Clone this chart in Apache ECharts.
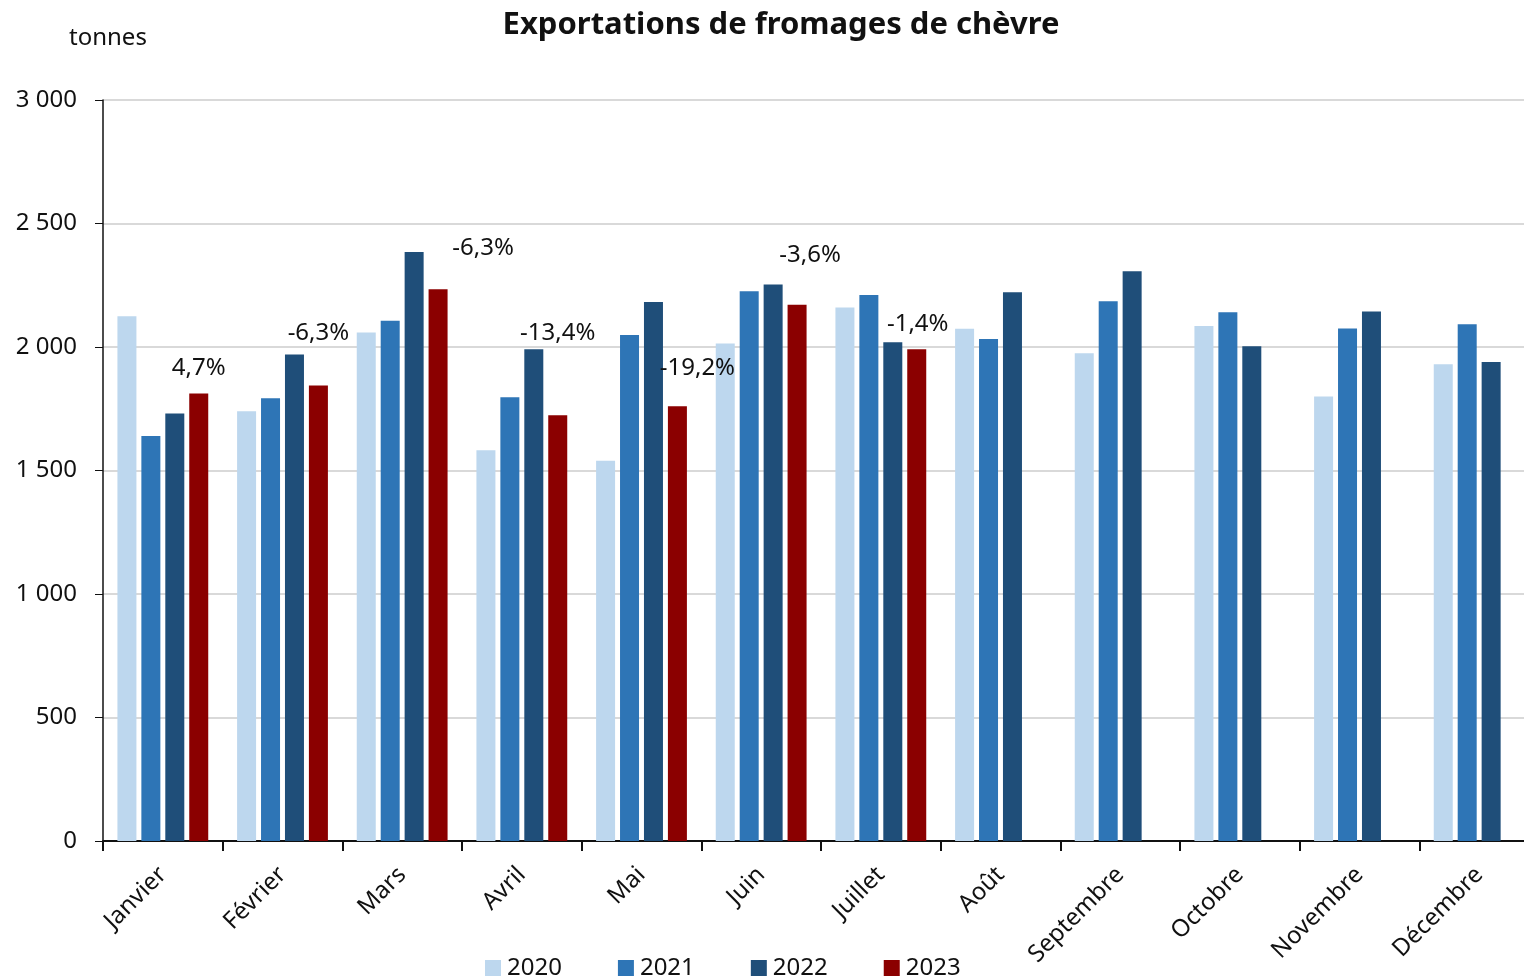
<!DOCTYPE html>
<html>
<head>
<meta charset="utf-8">
<title>Exportations de fromages de chèvre</title>
<script src="https://cdn.jsdelivr.net/npm/echarts@6/dist/echarts.min.js"></script>
<style>
  html, body { margin: 0; padding: 0; background: #fff; overflow: hidden; }
  /* wider than the window: the last category runs past the right edge */
  #chart { width: 1539px; height: 976px; }
</style>
</head>
<body>
<div id="chart"></div>
<script>
  var months = ['Janvier', 'Février', 'Mars', 'Avril', 'Mai', 'Juin', 'Juillet',
    'Août', 'Septembre', 'Octobre', 'Novembre', 'Décembre'];
  var years = ['2020', '2021', '2022', '2023'];

  // tonnes
  var y2020 = [2125, 1740, 2059, 1582, 1539, 2014, 2160, 2074, 1975, 2085, 1800, 1930];
  var y2021 = [1640, 1793, 2106, 1797, 2049, 2226, 2211, 2032, 2185, 2141, 2075, 2092];
  var y2022 = [1731, 1970, 2385, 1991, 2182, 2253, 2019, 2222, 2307, 2003, 2144, 1939];
  var y2023 = [1812, 1844, 2234, 1724, 1760, 2171, 1991, null, null, null, null, null];
  var pctLabels = ['4,7%', '-6,3%', '-6,3%', '-13,4%', '-19,2%', '-3,6%', '-1,4%'];

  var colors = ['#bdd7ee', '#2e75b6', '#1f4e79', '#8b0000'];
  // where each variation label sits relative to the top of the 2023 bar
  var labelOffsets = [[0, -8], [0, -35], [45, -24], [0, -65], [20, -21], [13, -33], [1, -8]];

  var font = 'Noto Sans';

  function spaced(v) {
    return String(v).replace(/\B(?=(\d{3})+(?!\d))/g, ' ');
  }

  function barSeries(name, data, color) {
    return {
      name: name,
      type: 'bar',
      data: data,
      barWidth: 19,
      barGap: '26%',
      itemStyle: {color: color},
      emphasis: {disabled: true}
    };
  }

  var s2023 = barSeries('2023', y2023.map(function (v, i) {
    if (v === null || !pctLabels[i]) return v;
    return {
      value: v,
      label: {
        show: true,
        position: 'top',
        offset: labelOffsets[i],
        formatter: pctLabels[i]
      }
    };
  }), colors[3]);
  s2023.label = {fontFamily: font, fontSize: 24, color: '#111'};

  var chart = echarts.init(document.getElementById('chart'));
  chart.setOption({
    animation: false,
    textStyle: {fontFamily: font},
    title: [{
      text: 'Exportations de fromages de chèvre',
      left: 776, top: 5,
      textAlign: 'center',
      textStyle: {fontFamily: font, fontSize: 31, fontWeight: 'bold', color: '#111'}
    }, {
      text: 'tonnes',
      left: 64, top: 21,
      textStyle: {fontFamily: font, fontSize: 24, fontWeight: 'normal', color: '#111'}
    }],
    legend: {
      data: years,
      left: 480, top: 951,
      itemWidth: 16, itemHeight: 16,
      itemGap: 56,
      icon: 'rect',
      textStyle: {fontFamily: font, fontSize: 24, color: '#111', padding: [0, 0, 0, 1]}
    },
    grid: {left: 103, right: 0, top: 100, bottom: 135},
    xAxis: {
      type: 'category',
      data: months,
      axisLine: {lineStyle: {color: '#111', width: 2}},
      axisTick: {show: true, length: 10, lineStyle: {color: '#111', width: 2}},
      axisLabel: {
        rotate: 45, margin: 30,
        fontFamily: font, fontSize: 24, color: '#111'
      }
    },
    yAxis: {
      type: 'value',
      min: 0, max: 3000, interval: 500,
      axisLine: {show: true, lineStyle: {color: '#111', width: 1.5}},
      axisTick: {show: true, length: 8, lineStyle: {color: '#111'}},
      axisLabel: {
        margin: 26,
        fontFamily: font, fontSize: 24, color: '#111',
        formatter: spaced
      },
      splitLine: {lineStyle: {color: '#d9d9d9', width: 2}}
    },
    series: [
      barSeries('2020', y2020, colors[0]),
      barSeries('2021', y2021, colors[1]),
      barSeries('2022', y2022, colors[2]),
      s2023
    ]
  });
</script>
</body>
</html>
